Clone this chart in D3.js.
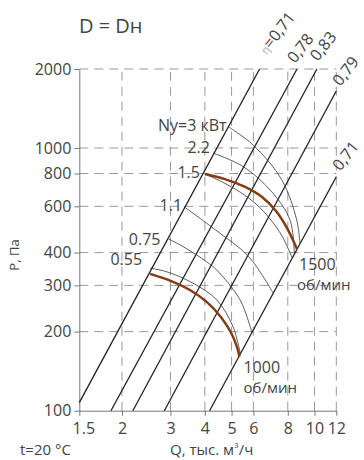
<!DOCTYPE html>
<html><head><meta charset="utf-8">
<script src="https://cdn.jsdelivr.net/npm/d3@7"></script>
<style>
body{margin:0;background:#fff}
text{font-family:"Open Sans",sans-serif;fill:#444}
</style>
</head><body>
<svg id="c" width="364" height="460"></svg>
<script>
// axis ticks
const xTickValues = [1.4, 2, 3, 4, 5, 6, 8, 10, 12];
const xTickLabels = ["1.5", "2", "3", "4", "5", "6", "8", "10", "12"];
const yTickValues = [100, 200, 300, 400, 600, 800, 1000, 2000];
const yTickLabels = ["100", "200", "300", "400", "600", "800", "1000", "2000"];

// efficiency lines (endpoints Q, P)
const etaLabels = ["=0,71", "0,78", "0,83", "0,79", "0,71"];
const etaQ = [[1.4, 6.32], [1.824, 8.64], [2.19, 10.2], [2.85, 12], [4.16, 12]];
const etaP = [[107.3, 2000], [100, 2000], [100, 2000], [100, 1650], [100, 778]];

// fan characteristics (brown)
const speedLabels = ["1500", "1000"];
const fan1500Q = [4.0, 4.73, 5.60, 6.45, 7.25, 7.95, 8.64];
const fan1500P = [797, 762, 711, 651, 576, 496, 413];
const fan1000Q = [2.53, 2.99, 3.53, 4.07, 4.58, 4.98, 5.23, 5.34];
const fan1000P = [332, 313, 288, 259, 227, 198, 175, 160.5];

// thin curves (motor power)
const powerLabels = ["Ny=3 кВт", "2.2", "1.5", "1.1", "0.75", "0.55"];
const power3Q = [4.88, 5.99, 7.61, 8.62, 8.86];
const power3P = [1203, 1027, 756, 532, 431];
const power22Q = [4.28, 5.51, 6.99, 8.15, 8.45];
const power22P = [958, 850, 682, 532, 395];
const power15Q = [4.0, 4.62, 5.37, 6.13, 6.90, 7.62, 8.29];
const power15P = [797, 743, 680, 613, 537, 463, 383];
const power11Q = [3.39, 4.37, 5.77, 7.07];
const power11P = [594, 488, 386, 281];
const power075Q = [2.95, 3.34, 4.06, 4.42, 5.37, 5.93];
const power075P = [451, 421, 369, 343, 264, 198];
const power055Q = [2.53, 2.91, 3.62, 4.42, 5.06, 5.38];
const power055P = [349, 338, 306, 264, 209, 165];

const svg = d3.select("#c");
const x = d3.scaleLog().domain([1.4, 12]).range([79.3, 336.3]);
const y = d3.scaleLog().domain([100, 2000]).range([410.7, 69]);
const zip = (a, b) => a.map((v, i) => [v, b[i]]);
const line = d3.line().x(d => x(d[0])).y(d => y(d[1])).curve(d3.curveCatmullRom.alpha(0.5));

// grid
const g = svg.append("g");
g.selectAll(".hg").data(yTickValues.slice(1)).join("line")
  .attr("x1", x(1.4)).attr("x2", x(12)).attr("y1", d => y(d)).attr("y2", d => y(d))
  .attr("stroke", "#999").attr("stroke-dasharray", "9,6");
g.selectAll(".vg").data(xTickValues.slice(1)).join("line")
  .attr("y1", y(100)).attr("y2", y(2000)).attr("x1", d => x(d)).attr("x2", d => x(d))
  .attr("stroke", "#999").attr("stroke-dasharray", "9,6");

// axes
const ax = svg.append("g").attr("transform", `translate(0,${y(100)})`)
  .call(d3.axisBottom(x).tickValues(xTickValues).tickFormat((d, i) => xTickLabels[i]).tickSize(5).tickSizeOuter(0).tickPadding(7));
const ay = svg.append("g").attr("transform", `translate(${x(1.4)},0)`)
  .call(d3.axisLeft(y).tickValues(yTickValues).tickFormat((d, i) => yTickLabels[i]).tickSize(5).tickSizeOuter(0).tickPadding(3));
[ax, ay].forEach(a => {
  a.select(".domain").attr("stroke", "#777");
  a.selectAll(".tick line").attr("stroke", "#777");
  a.selectAll("text").attr("font-size", 16).attr("font-family", "Open Sans").attr("fill", "#444");
});
ax.select(".tick text").attr("dx", 4);

// eta lines
etaQ.forEach((q, i) => {
  svg.append("line").attr("x1", x(q[0])).attr("y1", y(etaP[i][0]))
    .attr("x2", x(q[1])).attr("y2", y(etaP[i][1]))
    .attr("stroke", "#222").attr("stroke-width", 1.3);
});
const etaOff = [[7, -14], [-2, -5], [1, -7], [4, -4], [4, -5]];
etaQ.forEach((q, i) => {
  const px = x(q[1]) + etaOff[i][0], py = y(etaP[i][1]) + etaOff[i][1];
  const t = svg.append("text").attr("transform", `translate(${px},${py}) rotate(-52)`)
    .attr("font-size", 16);
  if (i === 0) t.append("tspan").attr("font-size", 11).attr("fill", "#aaa").text("η");
  t.append("tspan").text(etaLabels[i]);
});

// thin power curves
const powers = [[power3Q, power3P], [power22Q, power22P], [power15Q, power15P],
                [power11Q, power11P], [power075Q, power075P], [power055Q, power055P]];
powers.forEach(([q, p]) => {
  svg.append("path").attr("d", line(zip(q, p))).attr("fill", "none")
    .attr("stroke", "#333").attr("stroke-width", 0.8);
});
const powOff = [[-2, 4], [-3, 0], [-5, 4], [-3, 4], [-8, 6], [-8, -3]];
powers.forEach(([q, p], i) => {
  svg.append("text").attr("x", x(q[0]) + powOff[i][0]).attr("y", y(p[0]) + powOff[i][1])
    .attr("text-anchor", "end").attr("font-size", 16).text(powerLabels[i]);
});

// brown fan curves
[[fan1500Q, fan1500P], [fan1000Q, fan1000P]].forEach(([q, p], i) => {
  svg.append("path").attr("d", line(zip(q, p))).attr("fill", "none")
    .attr("stroke", "#843c14").attr("stroke-width", 2.5);
  const ex = x(q[q.length - 1]), ey = y(p[p.length - 1]);
  const dx = i === 0 ? 2 : 4, dy = i === 0 ? 21 : 16;
  svg.append("text").attr("x", ex + dx).attr("y", ey + dy).attr("font-size", 16).text(speedLabels[i]);
  svg.append("text").attr("x", ex + dx - (i === 0 ? 2 : 0)).attr("y", ey + dy + 20).attr("font-size", 15).text("об/мин");
});

// titles
svg.append("text").attr("x", 79).attr("y", 33).attr("font-size", 20).text("D = Dн");
svg.append("text").attr("transform", "translate(19,255) rotate(-90)").attr("text-anchor", "middle")
  .attr("font-size", 13).text("P, Па");
svg.append("text").attr("x", 20).attr("y", 455).attr("font-size", 15).text("t=20 °C");
const qt = svg.append("text").attr("x", 170).attr("y", 455).attr("font-size", 15);
qt.append("tspan").text("Q, тыс. м");
qt.append("tspan").attr("font-size", 8).attr("dy", -7).text("3");
qt.append("tspan").attr("dy", 7).text("/ч");
</script>
</body></html>
